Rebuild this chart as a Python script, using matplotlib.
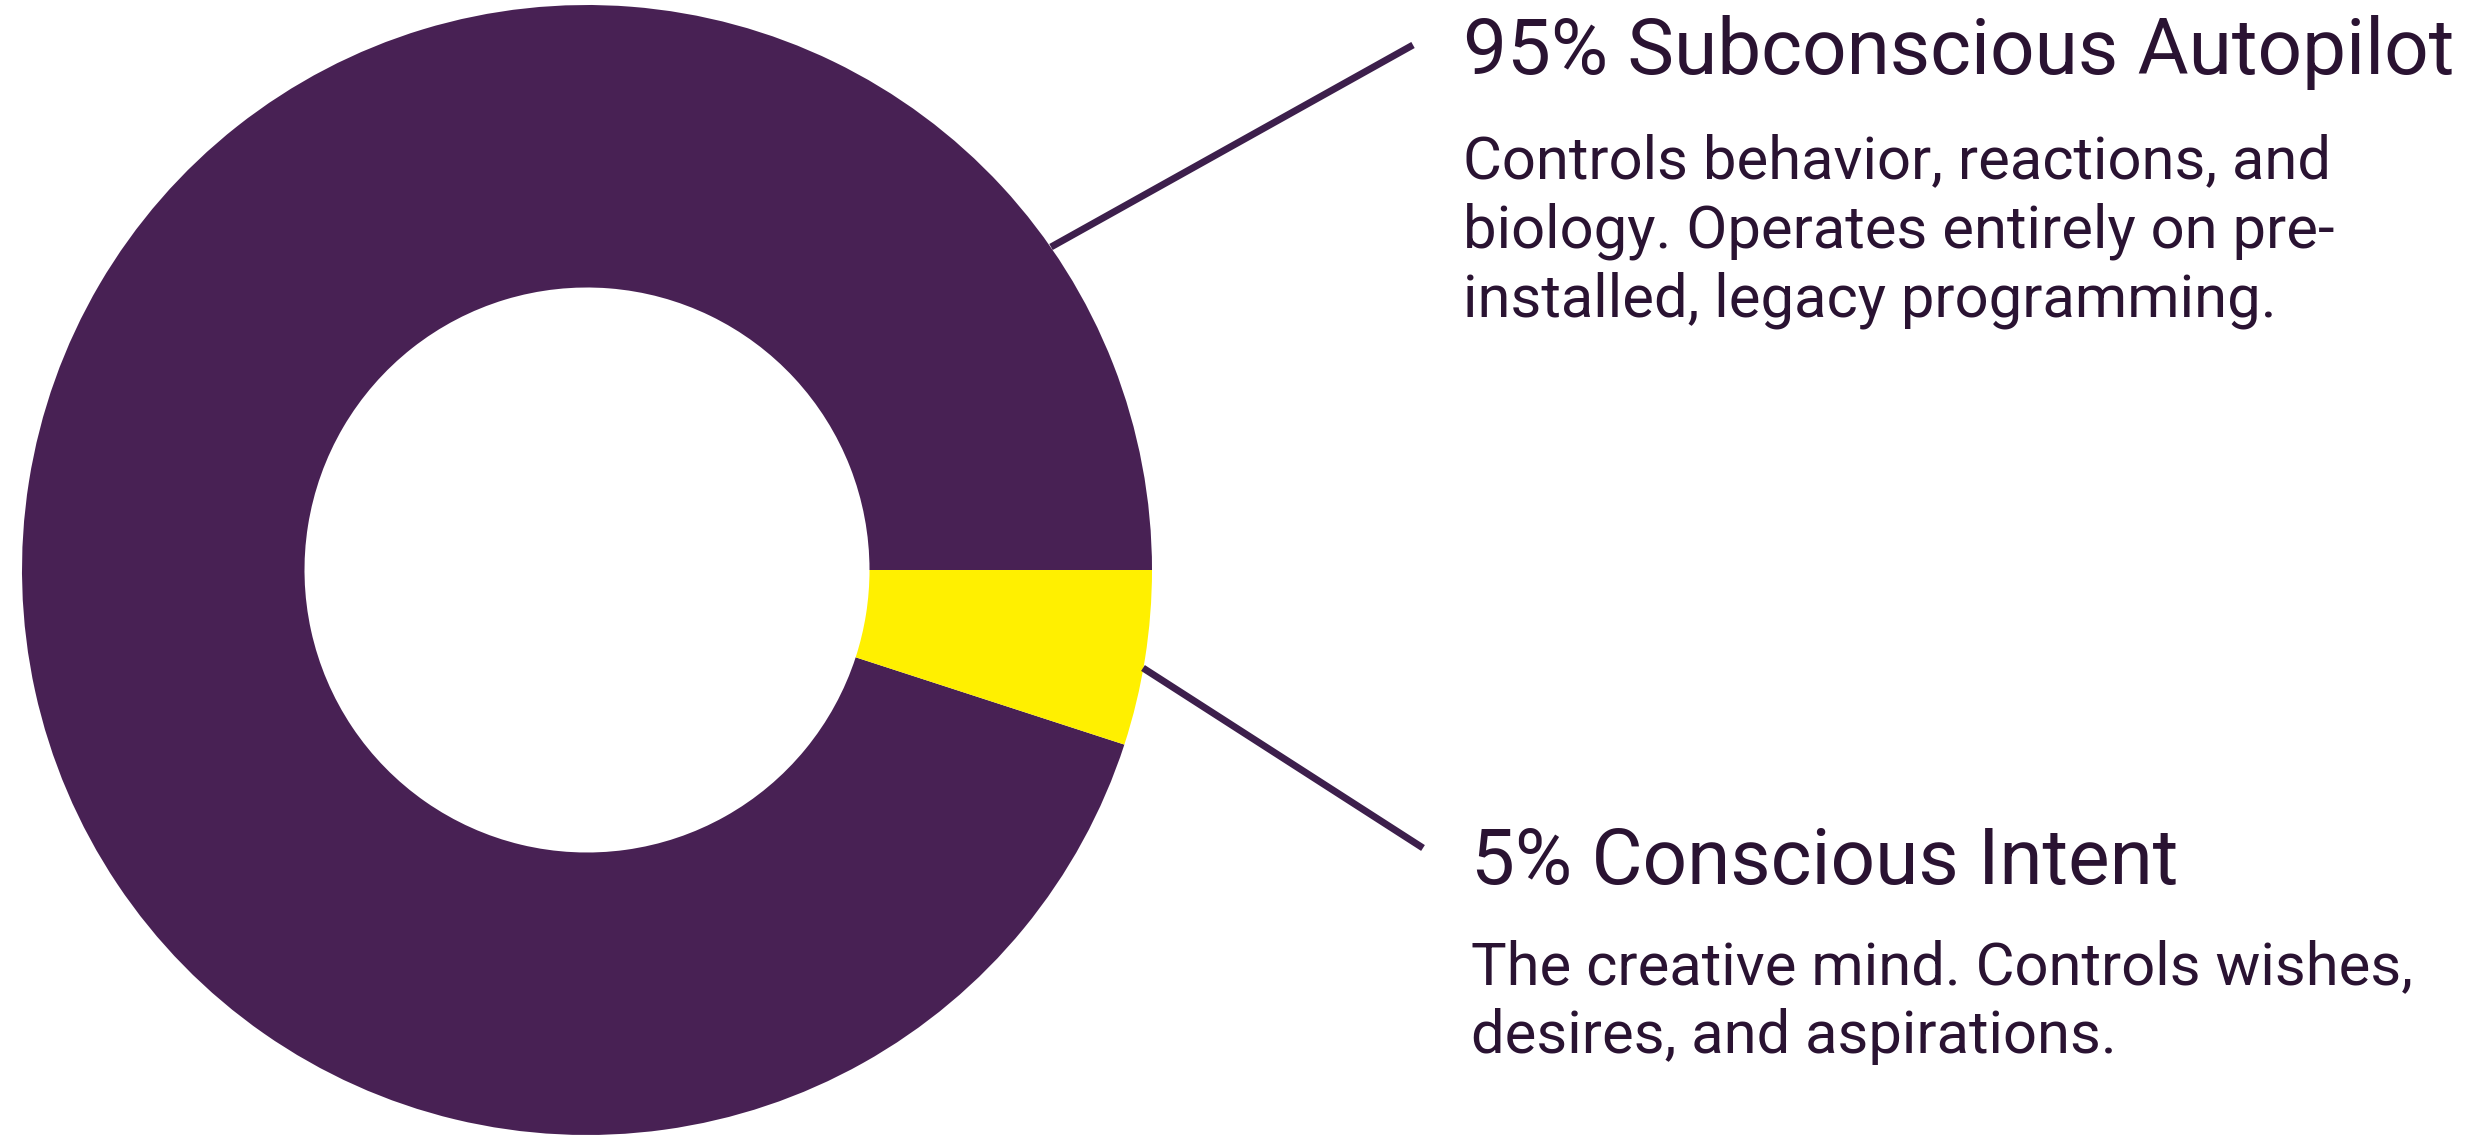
import matplotlib
matplotlib.use("Agg")
import matplotlib.pyplot as plt

plt.rcParams['font.family'] = ['Roboto', 'DejaVu Sans']

# data
shares = [95, 5]
slice_colors = ['#482154', '#fff000']
titles = ['95% Subconscious Autopilot', '5% Conscious Intent']
blurbs = [
    ['Controls behavior, reactions, and',
     'biology. Operates entirely on pre-',
     'installed, legacy programming.'],
    ['The creative mind. Controls wishes,',
     'desires, and aspirations.'],
]

W, H = 2467, 1138
text_color = '#2a1332'
line_color = '#3d1f4c'

fig = plt.figure(figsize=(W / 100, H / 100), dpi=100)
ax = fig.add_axes([0, 0, 1, 1])

# donut, drawn in pixel-like data units (y up)
cx, cy, r_out = 587, 568, 565
ax.pie(shares, colors=slice_colors, startangle=0, counterclock=True,
       center=(cx, cy), radius=r_out,
       wedgeprops=dict(width=r_out * 0.5, linewidth=0))

# leader lines
ax.plot([1051, 1413], [H - 247, H - 45], color=line_color, lw=5,
        solid_capstyle='butt')
ax.plot([1143, 1423], [H - 668, H - 848], color=line_color, lw=5,
        solid_capstyle='butt')

# labels: x, title baseline, first body baseline
blocks = [(1463, 74, 178), (1471, 884, 984)]
line_step = 69
for (x, ty, by), title, lines in zip(blocks, titles, blurbs):
    ax.text(x, H - ty, title, fontsize=56.3, color=text_color,
            va='baseline', ha='left')
    for i, s in enumerate(lines):
        ax.text(x, H - (by + i * line_step), s, fontsize=43,
                color=text_color, va='baseline', ha='left')

ax.set_xlim(0, W)
ax.set_ylim(0, H)
ax.set_aspect('equal')
ax.set_axis_off()

fig.savefig('out.png', dpi=100, facecolor='white')
